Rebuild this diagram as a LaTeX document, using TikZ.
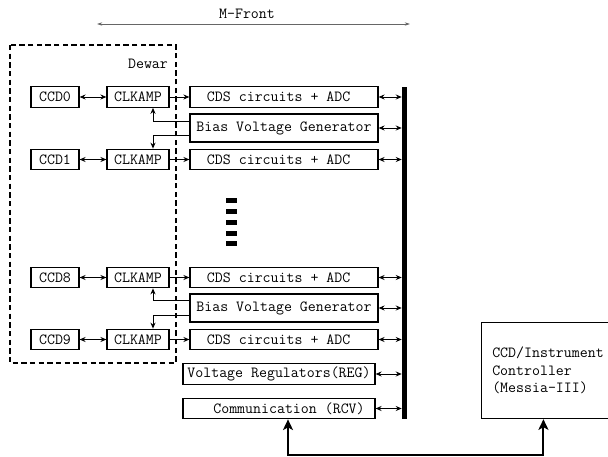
\documentclass[tikz,border=0pt]{standalone}
\usetikzlibrary{positioning, arrows.meta, calc}

\begin{document}
\begin{tikzpicture}[
    x=0.75pt, y=-0.75pt,
    box/.style={rectangle, draw=black, line width=0.9pt, inner sep=0pt,
      minimum height=15.4pt, font=\fontsize{11.6}{14}\selectfont\ttfamily},
    ccd/.style={box, minimum width=36pt},
    amp/.style={box, minimum width=46.5pt},
    cds/.style={box, minimum width=141pt},
    bias/.style={box, minimum width=141pt, minimum height=21pt},
    wide/.style={box, minimum width=144pt},
    ctrl/.style={box, minimum width=104pt, minimum height=72pt,
      text width=88pt, align=left, font=\fontsize{11.6}{13.1}\selectfont\ttfamily},
    lbl/.style={font=\fontsize{11.6}{14}\selectfont\ttfamily, inner sep=0pt},
    bus/.style={rectangle, fill=black, inner sep=0pt, minimum width=3.75pt, minimum height=249pt},
    dewarbox/.style={draw=black, line width=0.9pt, dash pattern=on 4pt off 2.5pt},
    tip/.tip={Stealth[length=4.5pt, width=3.8pt]},
    arr/.style={tip-tip, line width=0.75pt},
    sarr/.style={-tip, line width=0.75pt},
    garr/.style={{Stealth[length=4pt, width=2.5pt]}-{Stealth[length=4pt, width=2.5pt]},
      draw=black!60, line width=0.5pt},
    bigarr/.style={{Stealth[length=8pt, width=7.5pt, inset=2pt]}-{Stealth[length=8pt, width=7.5pt, inset=2pt]},
      line width=1.5pt}]
    \useasboundingbox (0,0) rectangle (608,457);

    % M-Front span
    \node[lbl] (mfront) at (247,14) {M-Front};
    \coordinate (mfl) at (97,24);
    \coordinate (mfr) at (410,24);
    \draw[garr] (mfl) -- (mfr);

    % Dewar
    \draw[dewarbox] (10,45) rectangle (176,363);
    \node[lbl] (dewar) at (148,64) {Dewar};

    % channels
    \node[ccd] (ccd0) at (55,97)    {CCD0};
    \node[amp] (amp0) at (138,97)   {CLKAMP};
    \node[cds] (cds0) at (284,97)   {CDS circuits + ADC\hspace*{8pt}};
    \node[bias] (bias1) at (284,128) {Bias Voltage Generator};
    \node[ccd] (ccd1) at (55,159.5)  {CCD1};
    \node[amp] (amp1) at (138,159.5) {CLKAMP};
    \node[cds] (cds1) at (284,159.5) {CDS circuits + ADC\hspace*{8pt}};

    \node[ccd] (ccd8) at (55,277.5)  {CCD8};
    \node[amp] (amp8) at (138,277.5) {CLKAMP};
    \node[cds] (cds8) at (284,277.5) {CDS circuits + ADC\hspace*{8pt}};
    \node[bias] (bias2) at (284,308) {Bias Voltage Generator};
    \node[ccd] (ccd9) at (55,339.5)  {CCD9};
    \node[amp] (amp9) at (138,339.5) {CLKAMP};
    \node[cds] (cds9) at (284,339.5) {CDS circuits + ADC\hspace*{8pt}};

    \node[wide] (reg)  at (279,374)   {Voltage Regulators(REG)};
    \node[wide] (comm) at (279,408.5) {\hspace*{15pt}Communication (RCV)};

    \node[bus] (bus) at (404.5,253) {};
    \node[ctrl, anchor=north west] (ctrl) at (481,322)
      {CCD/Instrument\\Controller\\(Messia-III)};

    % skipped channels
    \foreach \y in {200,211,222,233,243}
      \fill (226,\y-2.5) rectangle (237,\y+2.5);

    \draw[arr] (ccd0) -- (amp0);
    \draw[arr] (ccd1) -- (amp1);
    \draw[arr] (ccd8) -- (amp8);
    \draw[arr] (ccd9) -- (amp9);
    \draw[sarr] (amp0) -- (cds0);
    \draw[sarr] (amp1) -- (cds1);
    \draw[sarr] (amp8) -- (cds8);
    \draw[sarr] (amp9) -- (cds9);

    \draw[sarr] ($(bias1.west)+(0,-7)$) -| ($(amp0.south)+(15,0)$);
    \draw[sarr] ($(bias1.west)+(0,7)$)  -| ($(amp1.north)+(15,0)$);
    \draw[sarr] ($(bias2.west)+(0,-7.5)$) -| ($(amp8.south)+(15,0)$);
    \draw[sarr] ($(bias2.west)+(0,7.5)$)  -| ($(amp9.north)+(15,0)$);

    \draw[arr] (cds0.east)  -- (cds0.east -| bus.west);
    \draw[arr] (bias1.east) -- (bias1.east -| bus.west);
    \draw[arr] (cds1.east)  -- (cds1.east -| bus.west);
    \draw[arr] (cds8.east)  -- (cds8.east -| bus.west);
    \draw[arr] (bias2.east) -- (bias2.east -| bus.west);
    \draw[arr] (cds9.east)  -- (cds9.east -| bus.west);
    \draw[arr] (reg.east)   -- (reg.east -| bus.west);
    \draw[arr] (comm.east)  -- (comm.east -| bus.west);

    \draw[bigarr] ($(comm.south)+(9,0)$) -- ++(0,36) -| ($(ctrl.south)+(-7.5,0)$);
\end{tikzpicture}
\end{document}
